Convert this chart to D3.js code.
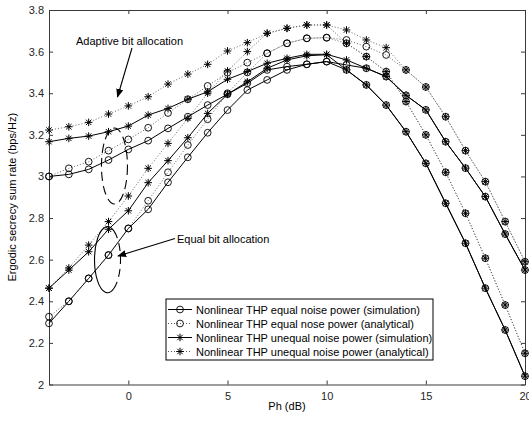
<!DOCTYPE html>
<html>
<head>
<meta charset="utf-8">
<script src="https://cdn.jsdelivr.net/npm/d3@7"></script>
<style>
body{margin:0;background:#fff;}
text{font-family:"Liberation Sans",Arial,sans-serif;}
</style>
</head>
<body>
<svg></svg>
<script>
var screen = {width:529,height:421}
var margins = {top:10,right:4,bottom:36.5,left:49}

// Ph (dB)
var ph = [-4,-3,-2,-1,0,1,2,3,4,5,6,7,8,9,10,11,12,13,14,15,16,17,18,19,20]

// adaptive bit allocation
var adaUneqAna = [3.223,3.239,3.26,3.30,3.339,3.383,3.444,3.492,3.539,3.603,3.643,3.688,3.712,3.728,3.728,3.704,3.656,3.619,3.512,3.43,3.287,3.124,2.975,2.783,2.59]
var adaEqAna   = [3.0,3.039,3.071,3.124,3.178,3.234,3.305,3.371,3.435,3.499,3.547,3.592,3.64,3.664,3.667,3.656,3.624,3.584,3.512,3.43,3.287,3.124,2.975,2.783,2.59]
var adaUneqSim = [3.167,3.183,3.194,3.215,3.242,3.295,3.327,3.371,3.407,3.467,3.504,3.544,3.568,3.587,3.587,3.56,3.52,3.48,3.39,3.32,3.167,3.04,2.903,2.723,2.55]
var adaEqSim   = [3.0,3.01,3.034,3.079,3.13,3.172,3.231,3.287,3.343,3.395,3.448,3.512,3.528,3.539,3.552,3.536,3.52,3.48,3.39,3.32,3.167,3.04,2.903,2.723,2.55]

// equal bit allocation
var eqUneqAna = [2.463,2.56,2.67,2.783,2.906,3.039,3.159,3.279,3.40,3.507,3.60,3.688,3.712,3.728,3.728,3.64,3.576,3.504,3.36,3.2,3.02,2.823,2.607,2.382,2.15]
var eqEqAna   = [2.326,2.40,2.51,2.622,2.75,2.883,3.02,3.151,3.275,3.40,3.50,3.592,3.64,3.664,3.667,3.64,3.576,3.504,3.36,3.2,3.02,2.823,2.607,2.382,2.15]
var eqUneqSim = [2.463,2.55,2.638,2.746,2.835,2.97,3.076,3.186,3.303,3.395,3.455,3.52,3.56,3.58,3.585,3.512,3.44,3.343,3.215,3.063,2.871,2.679,2.463,2.262,2.04]
var eqEqSim   = [2.294,2.40,2.51,2.622,2.75,2.842,2.972,3.092,3.21,3.319,3.415,3.464,3.512,3.539,3.552,3.512,3.44,3.343,3.215,3.063,2.871,2.679,2.463,2.262,2.04]

var xTicks = [0,5,10,15,20]
var yTicks = [2,2.2,2.4,2.6,2.8,3,3.2,3.4,3.6,3.8]

var legendLabels = ["Nonlinear THP equal noise power (simulation)",
                    "Nonlinear THP equal nose power (analytical)",
                    "Nonlinear THP unequal noise power (simulation)",
                    "Nonlinear THP unequal noise power (analytical)"]

var series = [
    {vals:eqEqSim,   marker:"circle", dotted:false},
    {vals:eqEqAna,   marker:"circle", dotted:true},
    {vals:eqUneqSim, marker:"star",   dotted:false},
    {vals:eqUneqAna, marker:"star",   dotted:true},
    {vals:adaEqSim,  marker:"circle", dotted:false},
    {vals:adaEqAna,  marker:"circle", dotted:true},
    {vals:adaUneqSim,marker:"star",   dotted:false},
    {vals:adaUneqAna,marker:"star",   dotted:true}
]
var legendStyles = [series[0],series[1],series[2],series[3]]

var width = screen.width - margins.left - margins.right
var height = screen.height - margins.top - margins.bottom

var svg = d3.select("svg")
    .attr("width",screen.width)
    .attr("height",screen.height)

var xScale = d3.scaleLinear().domain([-4,20]).range([0,width])
var yScale = d3.scaleLinear().domain([2,3.8]).range([height,0])

var graph = svg.append("g")
    .attr("transform","translate("+margins.left+","+margins.top+")")

var starPath = "M0,-3.8L0,3.8M-3.8,0L3.8,0M-2.7,-2.7L2.7,2.7M-2.7,2.7L2.7,-2.7"

var drawMarker = function(sel,type)
{
    if(type=="circle")
    {
        sel.append("circle").attr("r",3.4)
            .attr("fill","none").attr("stroke","#000").attr("stroke-width",0.9)
    }
    else
    {
        sel.append("path").attr("d",starPath)
            .attr("fill","none").attr("stroke","#000").attr("stroke-width",1)
    }
}

// axes
var axisColor = "#3a3a3a"
var xAxis = d3.axisBottom(xScale).tickValues(xTicks).tickSizeInner(-4).tickSizeOuter(0).tickPadding(8)
var yAxis = d3.axisLeft(yScale).tickValues(yTicks).tickSizeInner(-4).tickSizeOuter(0).tickPadding(5)
    .tickFormat(d3.format("~g"))
var xTop = d3.axisTop(xScale).tickValues(xTicks).tickSizeInner(-4).tickSizeOuter(0).tickFormat("")
var yRight = d3.axisRight(yScale).tickValues(yTicks).tickSizeInner(-4).tickSizeOuter(0).tickFormat("")

graph.append("g").attr("transform","translate(0,"+height+")").call(xAxis)
graph.append("g").call(yAxis)
graph.append("g").call(xTop)
graph.append("g").attr("transform","translate("+width+",0)").call(yRight)

graph.selectAll(".domain").attr("stroke",axisColor)
graph.selectAll(".tick line").attr("stroke",axisColor)
graph.selectAll(".tick text").attr("fill","#262626").style("font-size","11px")
    .style("font-family","'Liberation Sans',Arial,sans-serif")

// lines
var lineGenerator = d3.line()
    .x(function(d,i){return xScale(ph[i])})
    .y(function(d){return yScale(d)})

var groups = graph.selectAll(".series")
    .data(series)
    .enter()
    .append("g")
    .attr("class","series")

groups.append("path")
    .attr("d",function(s){return lineGenerator(s.vals)})
    .attr("fill","none")
    .attr("stroke",function(s){return s.dotted ? "#555" : "#000"})
    .attr("stroke-width",function(s){return s.dotted ? 0.9 : 1})
    .attr("stroke-dasharray",function(s){return s.dotted ? "1,2" : null})

groups.each(function(s)
{
    var pts = d3.select(this).selectAll(".pt")
        .data(s.vals)
        .enter()
        .append("g")
        .attr("transform",function(d,i){return "translate("+xScale(ph[i])+","+yScale(d)+")"})
    drawMarker(pts,s.marker)
})

// annotations
var defs = svg.append("defs")
defs.append("marker").attr("id","head")
    .attr("viewBox","0 0 10 10").attr("refX",9).attr("refY",5)
    .attr("markerWidth",9).attr("markerHeight",9).attr("orient","auto")
    .attr("markerUnits","userSpaceOnUse")
    .append("path").attr("d","M0,1L10,5L0,9Z").attr("fill","#000")

var ell1 = {cx:xScale(-0.7),cy:yScale(3.05),rx:13,ry:38}
svg.append("ellipse")
    .attr("cx",margins.left+ell1.cx).attr("cy",margins.top+ell1.cy)
    .attr("rx",ell1.rx).attr("ry",ell1.ry)
    .attr("fill","none").attr("stroke","#000").attr("stroke-width",1.1)
    .attr("stroke-dasharray","9,5")

svg.append("line")
    .attr("x1",132).attr("y1",48).attr("x2",117.5).attr("y2",97)
    .attr("stroke","#000").attr("stroke-width",1.1).attr("marker-end","url(#head)")

svg.append("text").attr("x",76).attr("y",45)
    .style("font-size","11px").text("Adaptive bit allocation")

var ell2 = {cx:xScale(-1.05),cy:yScale(2.6),rx:13,ry:33}
var e2 = {x:margins.left+ell2.cx,y:margins.top+ell2.cy}
svg.append("path")
    .attr("d","M"+(e2.x+ell2.rx*0.5)+","+(e2.y-ell2.ry*0.866)
        +"A"+ell2.rx+","+ell2.ry+" 0 1,0 "+(e2.x+ell2.rx*0.5)+","+(e2.y+ell2.ry*0.866))
    .attr("fill","none").attr("stroke","#000").attr("stroke-width",1.1)
svg.append("path")
    .attr("d","M"+(e2.x+ell2.rx*0.5)+","+(e2.y-ell2.ry*0.866)
        +"A"+ell2.rx+","+ell2.ry+" 0 0,1 "+(e2.x+ell2.rx*0.5)+","+(e2.y+ell2.ry*0.866))
    .attr("fill","none").attr("stroke","#000").attr("stroke-width",1.1)
    .attr("stroke-dasharray","8,5")

svg.append("line")
    .attr("x1",175).attr("y1",238.5).attr("x2",118).attr("y2",256)
    .attr("stroke","#000").attr("stroke-width",1.1).attr("marker-end","url(#head)")

svg.append("text").attr("x",177).attr("y",243)
    .style("font-size","11px").text("Equal bit allocation")

// legend
var legend = svg.append("g").attr("transform","translate(166,299)")
legend.append("rect").attr("width",267).attr("height",61)
    .attr("fill","#fff").attr("stroke","#000").attr("stroke-width",1)

var rows = legend.selectAll(".row")
    .data(legendStyles)
    .enter()
    .append("g")
    .attr("transform",function(d,i){return "translate(0,"+(10.5+i*14)+")"})

rows.append("line").attr("x1",2).attr("x2",26)
    .attr("stroke",function(s){return s.dotted ? "#555" : "#000"})
    .attr("stroke-dasharray",function(s){return s.dotted ? "1,2" : null})
rows.each(function(s)
{
    var m = d3.select(this).append("g").attr("transform","translate(14,0)")
    drawMarker(m,s.marker)
})
rows.append("text").attr("x",30).attr("y",4)
    .style("font-size","11px")
    .text(function(d,i){return legendLabels[i]})

// axis titles
svg.append("text").attr("x",margins.left+width/2).attr("y",410)
    .attr("text-anchor","middle").style("font-size","11px").text("Ph (dB)")

svg.append("text")
    .attr("transform","translate(16,"+(margins.top+height/2)+") rotate(-90)")
    .attr("text-anchor","middle").style("font-size","11px")
    .text("Ergodic secrecy sum rate (bps/Hz)")
</script>
</body>
</html>
